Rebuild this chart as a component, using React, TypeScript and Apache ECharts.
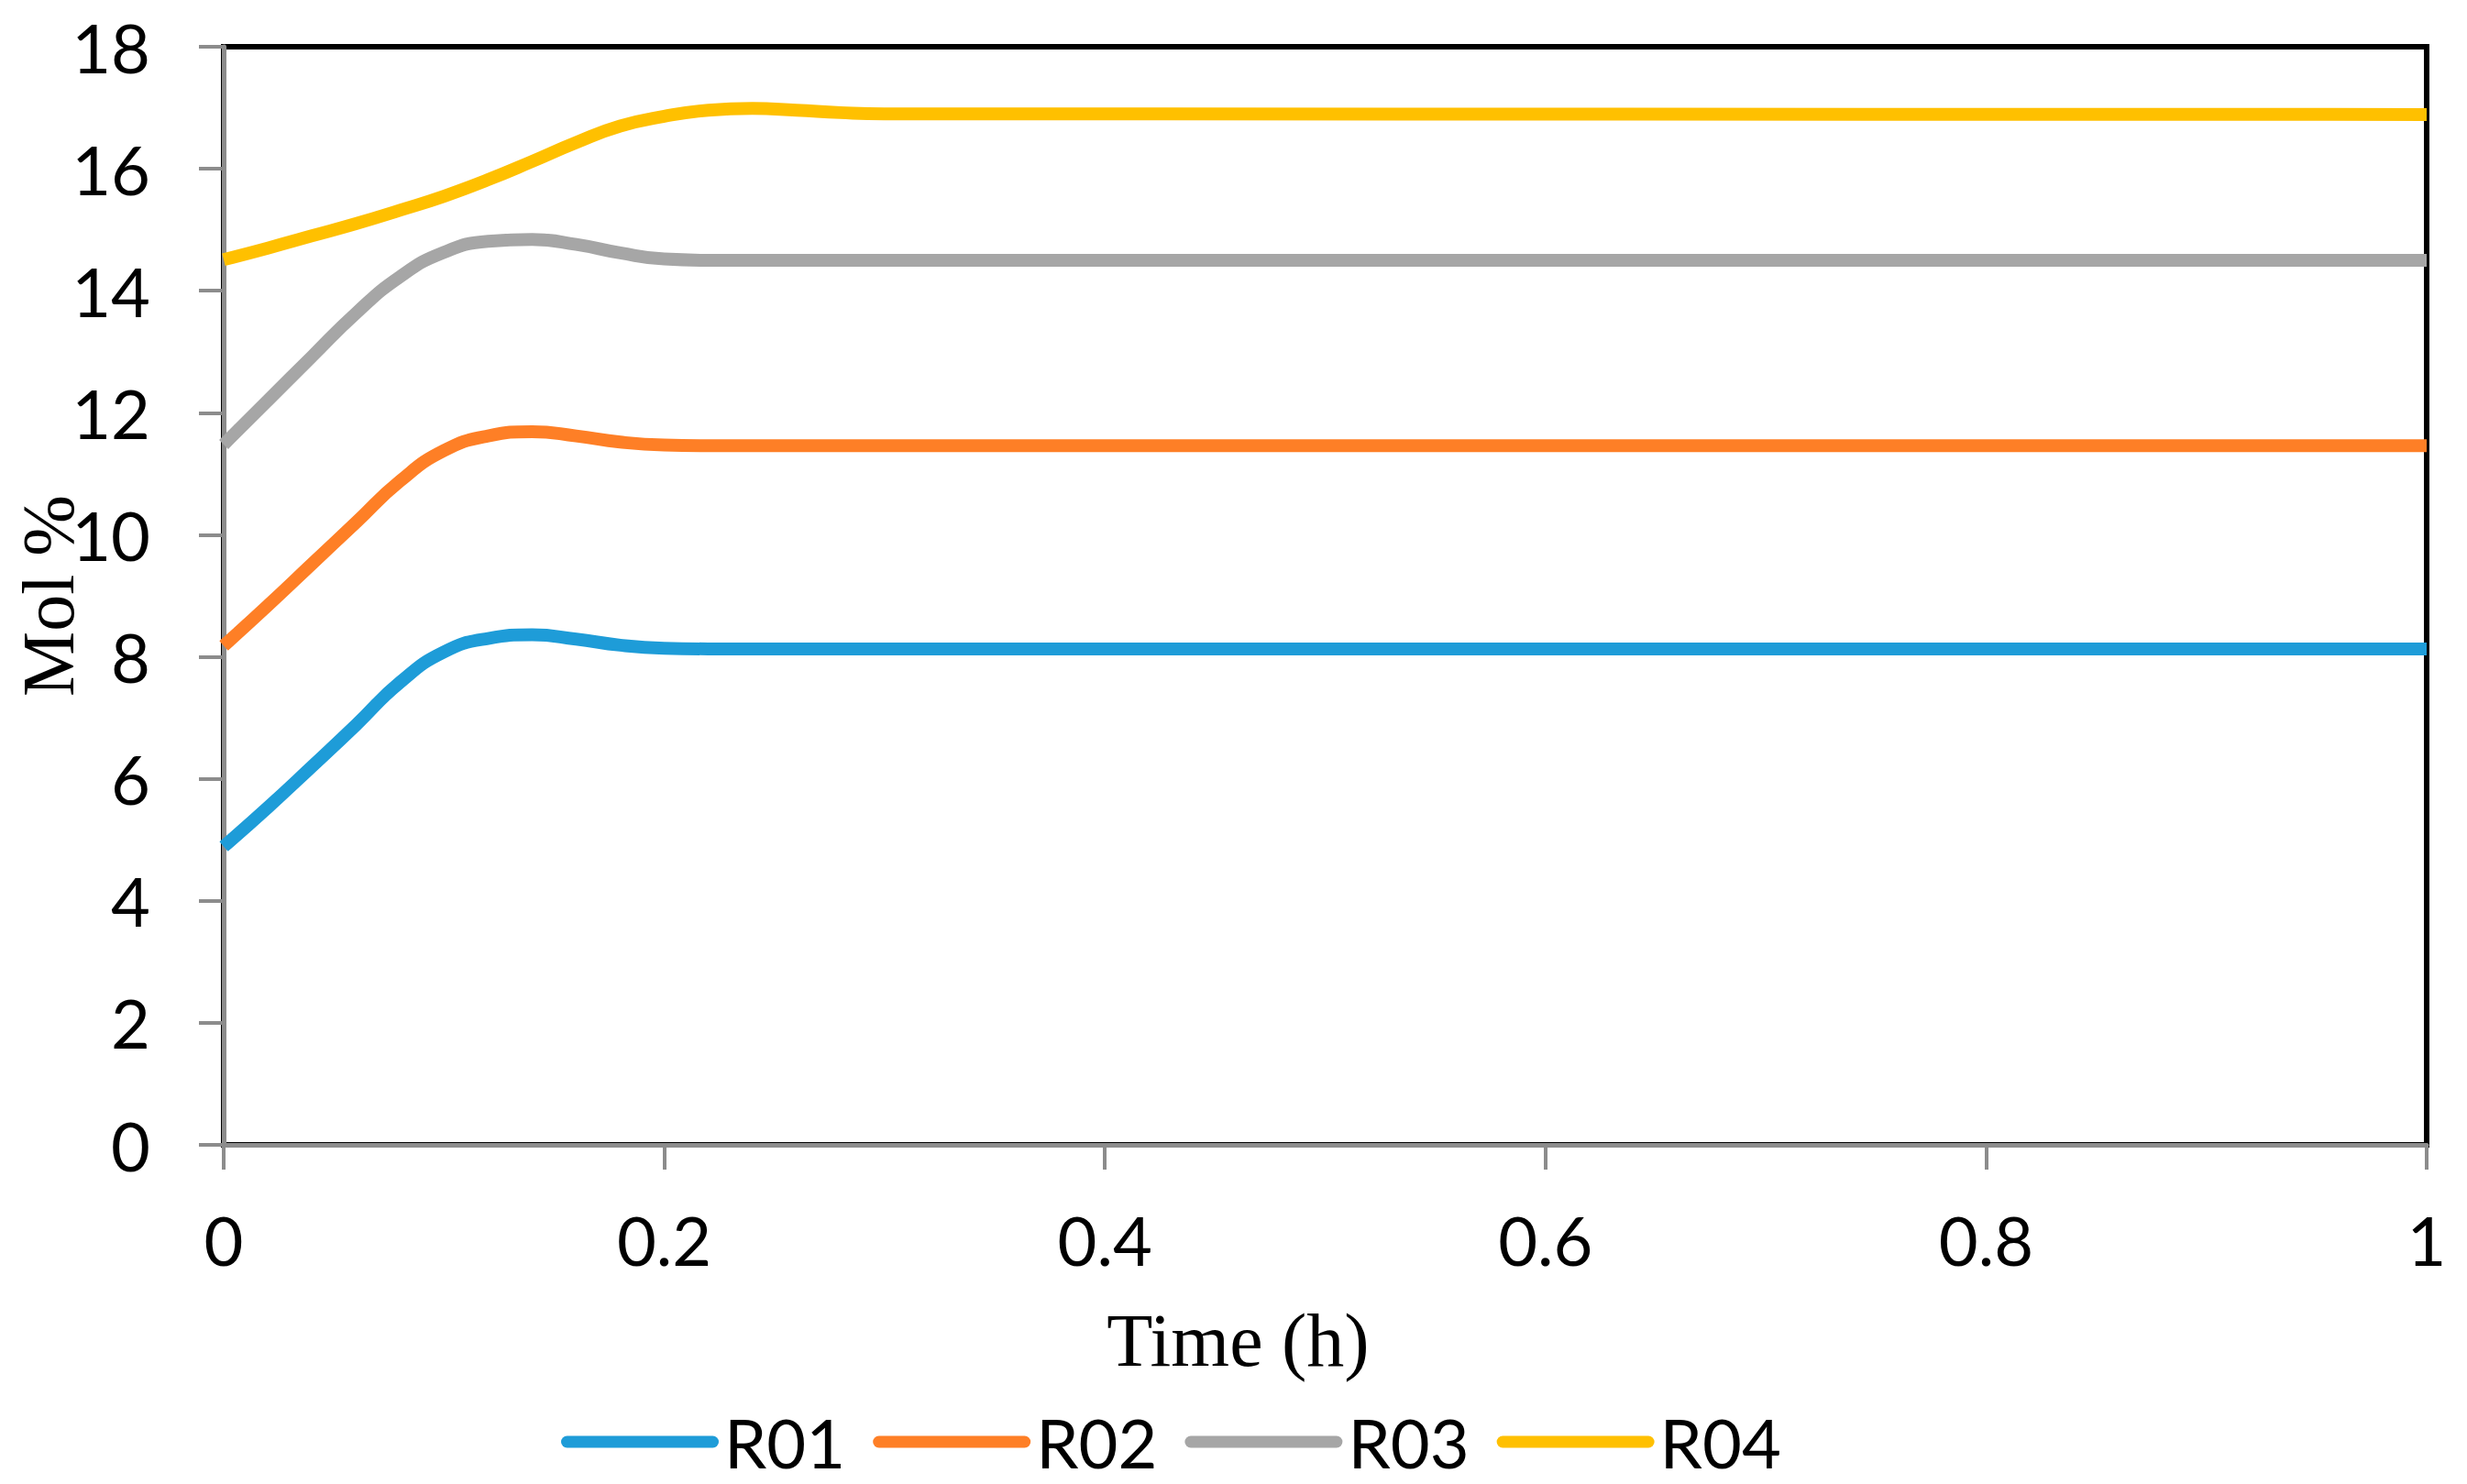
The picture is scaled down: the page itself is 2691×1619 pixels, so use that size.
import React, { useEffect, useRef } from "react";
import * as echarts from "echarts";

const seriesNames = ["R01", "R02", "R03", "R04"];
const seriesColors = ["#1E9CD8", "#FE7F26", "#A6A6A6", "#FFC000"];

const timeH = [0, 0.02, 0.04, 0.06, 0.08, 0.1, 0.12, 0.14, 0.16, 0.18, 0.2, 0.22, 0.24, 0.26, 0.28, 0.3, 1];

const r01 = [4.89, 5.53, 6.2, 6.88, 7.58, 8.08, 8.3, 8.36, 8.29, 8.19, 8.14, 8.13, 8.13, 8.13, 8.13, 8.13, 8.13];
const r02 = [8.18, 8.84, 9.52, 10.2, 10.88, 11.38, 11.62, 11.69, 11.62, 11.52, 11.47, 11.46, 11.46, 11.46, 11.46, 11.46, 11.46];
const r03 = [11.48, 12.2, 12.92, 13.63, 14.23, 14.63, 14.81, 14.84, 14.76, 14.62, 14.52, 14.5, 14.5, 14.5, 14.5, 14.5, 14.5];
const r04 = [14.51, 14.7, 14.9, 15.1, 15.32, 15.55, 15.82, 16.12, 16.43, 16.7, 16.86, 16.96, 16.99, 16.96, 16.92, 16.9, 16.89];

const allValues = [r01, r02, r03, r04];

const xTickInterval = 0.2;
const yTickInterval = 2;

export default function App() {
  const ref = useRef<HTMLDivElement>(null);

  useEffect(() => {
    if (!ref.current) return;
    const chart = echarts.init(ref.current, undefined, { renderer: "svg" });
    const axisGray = "#8C8C8C";
    const labelFont = "Lato, 'Noto Sans', sans-serif";
    const titleFont = "'Liberation Serif', 'DejaVu Serif', serif";

    chart.setOption({
      animation: false,
      backgroundColor: "#ffffff",
      grid: {
        left: 244,
        right: 44,
        top: 51,
        bottom: 370,
        show: true,
        borderColor: "#000000",
        borderWidth: 6,
        backgroundColor: "transparent",
        containLabel: false,
        outerBoundsMode: "none",
      },
      legend: {
        show: true,
        left: 607,
        top: 1531,
        orient: "horizontal",
        data: seriesNames,
        icon: "path://M6.5,0 H165.5 A6.5,6.5 0 0 1 165.5,13 H6.5 A6.5,6.5 0 0 1 6.5,0 Z",
        itemWidth: 172,
        itemHeight: 13,
        itemGap: 30,
        textStyle: {
          fontSize: 74,
          fontFamily: labelFont,
          color: "#000000",
          padding: [0, 0, 0, 1],
          width: 122,
        },
      },
      xAxis: {
        type: "value",
        min: 0,
        max: 1,
        interval: xTickInterval,
        name: "Time (h)",
        nameLocation: "middle",
        nameGap: 172,
        nameMoveOverlap: false,
        nameTextStyle: {
          fontSize: 82,
          fontFamily: titleFont,
          color: "#000000",
          padding: [0, 190, 0, 0],
        },
        axisLine: { show: true, onZero: false, lineStyle: { color: axisGray, width: 5 } },
        axisTick: { show: true, inside: false, length: 27, lineStyle: { color: axisGray, width: 4 } },
        axisLabel: {
          fontSize: 74,
          fontFamily: labelFont,
          color: "#000000",
          margin: 66,
          formatter: (v: number) => String(Math.round(v * 10) / 10),
        },
        splitLine: { show: false },
      },
      yAxis: {
        type: "value",
        min: 0,
        max: 18,
        interval: yTickInterval,
        name: "Mol %",
        nameLocation: "middle",
        nameGap: 151,
        nameRotate: 90,
        nameMoveOverlap: false,
        nameTextStyle: {
          fontSize: 80,
          fontFamily: titleFont,
          color: "#000000",
        },
        axisLine: { show: true, onZero: false, lineStyle: { color: axisGray, width: 5 } },
        axisTick: { show: true, inside: false, length: 27, lineStyle: { color: axisGray, width: 4 } },
        axisLabel: {
          fontSize: 74,
          fontFamily: labelFont,
          color: "#000000",
          margin: 80,
        },
        splitLine: { show: false },
      },
      series: seriesNames.map((name, i) => ({
        name,
        type: "line",
        data: timeH.map((t, k) => [t, allValues[i][k]]),
        smooth: 0.5,
        showSymbol: false,
        symbol: "none",
        color: seriesColors[i],
        itemStyle: { color: seriesColors[i] },
        lineStyle: { color: seriesColors[i], width: 14 },
        z: 3,
      })),
    });

    return () => {
      chart.dispose();
    };
  }, []);

  return (
    <div
      ref={ref}
      style={{ position: "fixed", left: 0, top: 0, width: "100vw", height: "100vh", background: "#fff" }}
    />
  );
}
